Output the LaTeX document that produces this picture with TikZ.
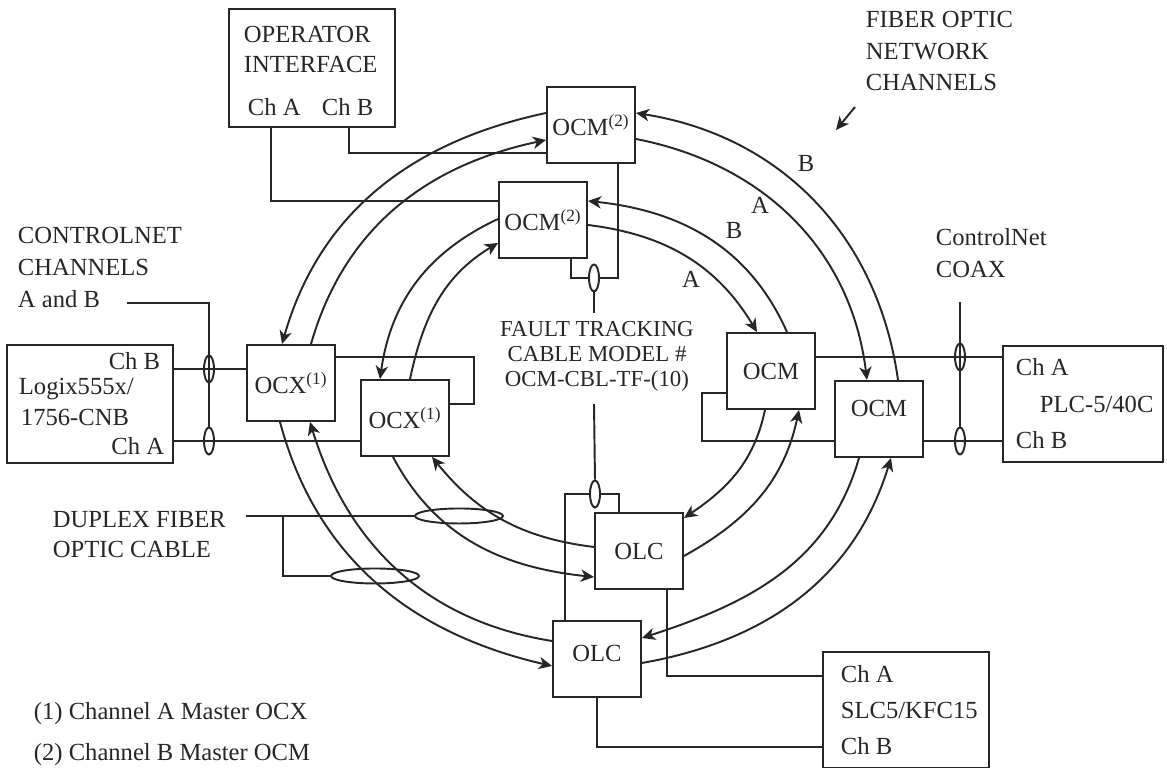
\documentclass[tikz,border=0pt]{standalone}
\usepackage{fontspec}
\setmainfont{Liberation Serif}
\usetikzlibrary{arrows.meta,shapes.geometric}

\begin{document}
\begin{tikzpicture}[x=0.2mm, y=0.2mm, >={Stealth[length=7.5pt,width=7pt,inset=2.2pt]},
    line width=1.1pt, color=black!85,
    font=\fontsize{14}{17}\selectfont,
    unit/.style={draw, minimum width=17.6mm, minimum height=15.2mm, inner sep=0pt},
    host/.style={draw, minimum width=33.2mm, minimum height=23.6mm, inner sep=0pt},
    tap/.style={draw, ellipse, inner sep=0pt, minimum width=2mm, minimum height=5.4mm},
    duplex/.style={draw, ellipse, inner sep=0pt, minimum width=17.6mm, minimum height=3mm},
    txt/.style={anchor=base west, inner sep=0pt},
    rtxt/.style={anchor=base east, inner sep=0pt}]

\useasboundingbox (0,0) rectangle (1167,768);

% Cac thiet bi chu (host)
\node[host] (opi) at (312,700) {};
\node[txt] at (243,725) {OPERATOR};
\node[txt] at (243,695) {INTERFACE};
\node[txt] at (247,652) {Ch A};
\node[txt] at (321,652) {Ch B};

\node[host] (logix) at (90,364) {};
\node[rtxt] at (161,398) {Ch B};
\node[txt] at (18,373) {Logix555x/};
\node[txt] at (20,342) {1756-CNB};
\node[rtxt] at (165,313) {Ch A};

\node[host, minimum width=32mm, minimum height=23.2mm] (plc) at (1083,364) {};
\node[txt] at (1015,392) {Ch A};
\node[txt] at (1039,355) {PLC-5/40C};
\node[txt] at (1015,319) {Ch B};

\node[host, minimum height=23.2mm] (slc) at (906,58) {};
\node[txt] at (840,85) {Ch A};
\node[txt] at (840,49) {SLC5/KFC15};
\node[txt] at (840,13) {Ch B};

% Cac module quang
\node[unit] (ocmT) at (591,643) {OCM\textsuperscript{(2)}};
\node[unit] (ocmI) at (543,548) {OCM\textsuperscript{(2)}};
\node[unit] (ocxO) at (291,385) {OCX\textsuperscript{(1)}};
\node[unit] (ocxI) at (405,350) {OCX\textsuperscript{(1)}};
\node[unit] (ocmRI) at (771,397) {OCM};
\node[unit, label={[yshift=2.2mm]center:OCM}] (ocmRO) at (879,349) {};
\node[unit] (olcI) at (639,217) {OLC};
\node[unit, label={[yshift=1.2mm]center:OLC}] (olcO) at (597,109) {};

% Cac diem ghep cap
\node[tap] (tapL1) at (209,399) {};
\node[tap] (tapL2) at (209,327) {};
\node[tap] (tapC1) at (960,411) {};
\node[tap] (tapC2) at (960,327) {};
\node[tap] (tapF1) at (594,490) {};
\node[tap] (tapF2) at (595,274) {};
\node[duplex] (dup1) at (459,252) {};
\node[duplex] (dup2) at (375,192) {};

\coordinate (cnTip) at (127,465);
\coordinate (coaxTop) at (960,466);
\coordinate (dupTip) at (246,252);
\coordinate (dupJoin) at (283,252);
\coordinate (faultTop) at (594,455);
\coordinate (faultBot) at (594,364);
\coordinate (fonTail) at (855,661);
\coordinate (fonHead) at (836,638);

% Day ControlNet (coax)
\draw (logix.east |- 0,399) -- (ocxO.west |- 0,399);
\draw (logix.east |- 0,327) -- (ocxI.west |- 0,327);
\draw (ocxO.east |- 0,411) -- ++(138,0) |- (ocxI.east |- 0,364);
\draw (cnTip) -| (tapL2.north);
\draw (ocmRI.east |- 0,411) -- (plc.west |- 0,411);
\draw (ocmRO.east |- 0,327) -- (plc.west |- 0,327);
\draw (ocmRI.west |- 0,375) -- ++(-24,0) |- (ocmRO.west |- 0,327);
\draw (coaxTop) -- (tapC2.north);
\draw (opi.south -| 349,0) |- (ocmT.west |- 0,615);
\draw (opi.south -| 271,0) |- (ocmI.west |- 0,567);
\draw (olcI.south -| 667,0) |- (slc.west |- 0,92);
\draw (olcO.south) |- (slc.west |- 0,21);

% Cap theo doi loi
\draw (ocmT.south -| 618,0) |- (tapF1) -| (ocmI.south -| 571,0);
\draw (olcI.north -| 619,0) |- (tapF2) -| (olcO.north -| 565,0);
\draw (tapF1.south) -- (faultTop);
\draw (faultBot) -- (tapF2.north);

% Cap quang doi
\draw (dupTip) -- (dup1.west);
\draw (dupJoin) |- (dup2.west);

% Vong ngoai
\draw[->] (ocmT.west |- 0,655) to[out=192,in=74] (ocxO.north -| 282,0);
\draw[->] (ocxO.north -| 311,0) to[out=74,in=192] (ocmT.west |- 0,628);
\draw[->] (ocmRO.north -| 898,0) to[out=98,in=-9] (ocmT.east |- 0,655);
\draw[->] (ocmT.east |- 0,629) to[out=-11,in=97] (ocmRO.north -| 867,0);
\draw[->] (ocxO.south -| 280,0) to[out=-75,in=167] (olcO.west |- 0,102);
\draw[->] (olcO.west |- 0,127) to[out=171,in=-73] (ocxO.south -| 310,0);
\draw[->] (olcO.east |- 0,105) to[out=10,in=253] (ocmRO.south -| 891,0);
\draw[->] (ocmRO.south -| 859,0) to[out=254,in=18] (olcO.east |- 0,130);

% Vong trong
\draw[->] (ocmI.west |- 0,549) to[out=205,in=82] (ocxI.north -| 380,0);
\draw[->] (ocxI.north -| 410,0) to[out=78,in=211] (ocmI.west |- 0,525);
\draw[->] (ocmRI.north -| 787,0) to[out=114,in=-6] (ocmI.east |- 0,567);
\draw[->] (ocmI.east |- 0,543) to[out=-7,in=121] (ocmRI.north -| 757,0);
\draw[->] (ocxI.south -| 393,0) to[out=-62,in=174] (olcI.west |- 0,191);
\draw[->] (olcI.west |- 0,221) to[out=173,in=-51] (ocxI.south -| 432,0);
\draw[->] (ocmRI.south -| 765,0) to[out=258,in=34] (olcI.east |- 0,250);
\draw[->] (olcI.east |- 0,212) to[out=29,in=258] (ocmRI.south -| 799,0);

% Nhan kenh
\node (lblB1) at (806,605) {B};
\node (lblA1) at (760,563) {A};
\node (lblB2) at (734,538) {B};
\node (lblA2) at (691,489) {A};

% Chu thich
\node[txt] at (865,740) {FIBER OPTIC};
\node[txt] at (865,708) {NETWORK};
\node[txt] at (865,677) {CHANNELS};
\draw[->] (fonTail) -- (fonHead);

\node[txt] at (17,524) {CONTROLNET};
\node[txt] at (17,492) {CHANNELS};
\node[txt] at (17,460) {A and B};

\node[txt] at (935,522) {ControlNet};
\node[txt] at (935,490) {COAX};

\node[align=center, font=\fontsize{13}{14.2}\selectfont] (fault) at (597,412)
  {FAULT TRACKING\\CABLE MODEL \#\\OCM-CBL-TF-(10)};

\node[txt] at (52,240) {DUPLEX FIBER};
\node[txt] at (52,210) {OPTIC CABLE};

\node[txt] at (33,48) {(1) Channel A Master OCX};
\node[txt] at (33,7) {(2) Channel B Master OCM};
\end{tikzpicture}
\end{document}
